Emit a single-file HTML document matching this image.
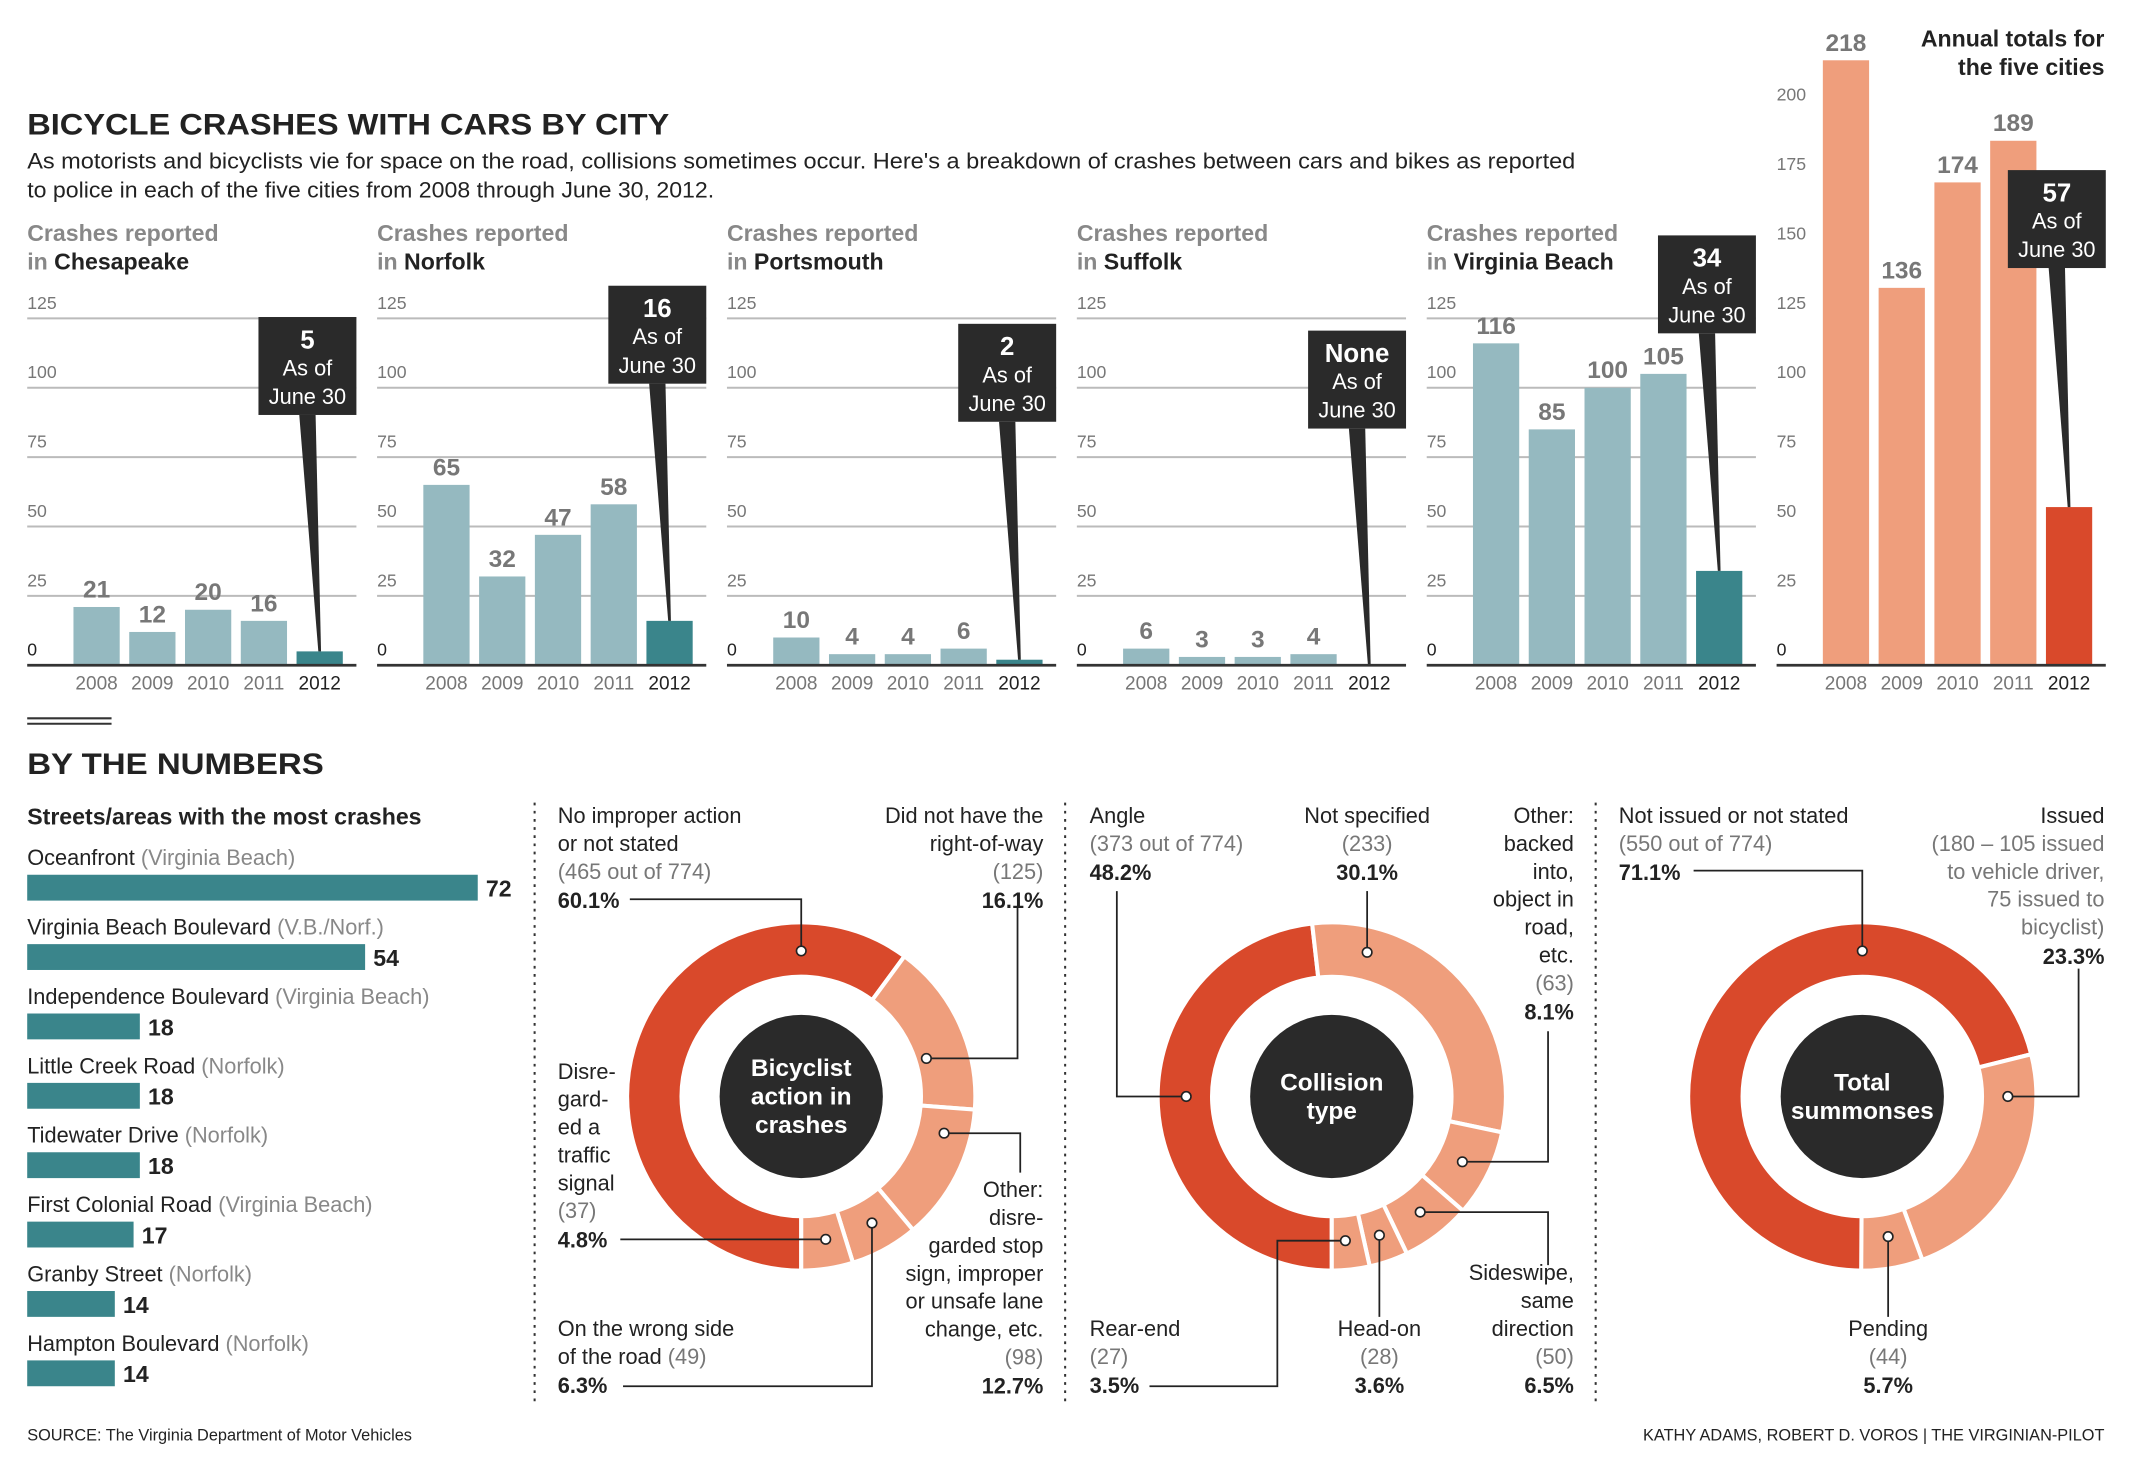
<!DOCTYPE html>
<html><head><meta charset="utf-8"><style>
html,body{margin:0;padding:0;background:#fff}
svg{display:block}
text{font-family:"Liberation Sans Narrow","Liberation Sans",sans-serif}
.g{fill:#777}.b{font-weight:bold}
</style></head><body>
<svg id="s" width="2133" height="1472" viewBox="0 0 1568 1082" xmlns="http://www.w3.org/2000/svg">
<rect width="1568" height="1082" fill="#fff"/>
<text x="20" y="99" font-size="22" class="b" fill="#222" textLength="472" lengthAdjust="spacingAndGlyphs">BICYCLE CRASHES WITH CARS BY CITY</text>
<text x="20" y="124" font-size="16" fill="#222" textLength="1138" lengthAdjust="spacingAndGlyphs">As motorists and bicyclists vie for space on the road, collisions sometimes occur. Here's a breakdown of crashes between cars and bikes as reported</text>
<text x="20" y="145" font-size="16" fill="#222" textLength="505" lengthAdjust="spacingAndGlyphs">to police in each of the five cities from 2008 through June 30, 2012.</text>
<text x="1547" y="34" font-size="17" class="b" fill="#222" text-anchor="end"><tspan>Annual totals for</tspan><tspan x="1547" dy="21">the five cities</tspan></text>
<g id="bars"></g>
<line x1="20" y1="528" x2="82" y2="528" stroke="#333" stroke-width="1.5"/>
<line x1="20" y1="532" x2="82" y2="532" stroke="#333" stroke-width="1.5"/>
<text x="20" y="569" font-size="22" class="b" fill="#222" textLength="218" lengthAdjust="spacingAndGlyphs">BY THE NUMBERS</text>
<text x="20" y="606" font-size="17" class="b" fill="#222">Streets/areas with the most crashes</text>
<g id="streets"></g>
<line x1="393" y1="590" x2="393" y2="1030" stroke="#333" stroke-width="1.5" stroke-dasharray="2,4"/>
<line x1="783" y1="590" x2="783" y2="1030" stroke="#333" stroke-width="1.5" stroke-dasharray="2,4"/>
<line x1="1173" y1="590" x2="1173" y2="1030" stroke="#333" stroke-width="1.5" stroke-dasharray="2,4"/>
<g id="donuts"></g>
<g id="leaders" fill="none" stroke="#222" stroke-width="1.3">
<polyline points="463,661 589,661 589,699"/>
<polyline points="748,667 748,778 681,778"/>
<polyline points="456,911 607,911"/>
<polyline points="694,833 750,833 750,862"/>
<polyline points="458,1019 641,1019 641,899"/>
<polyline points="821,655 821,806 872,806"/>
<polyline points="1005,655 1005,700"/>
<polyline points="1138,758 1138,854 1075,854"/>
<polyline points="845,1019 939,1019 939,912 989,912"/>
<polyline points="1014,968 1014,908"/>
<polyline points="1138,930 1138,891 1044,891"/>
<polyline points="1245,640 1369,640 1369,699"/>
<polyline points="1528,712 1528,806 1476,806"/>
<polyline points="1388,968 1388,909"/>
</g>
<g id="dots" fill="#fff" stroke="#222" stroke-width="1.2">
<circle cx="589" cy="699" r="3.5"/><circle cx="681" cy="778" r="3.5"/><circle cx="607" cy="911" r="3.5"/><circle cx="694" cy="833" r="3.5"/><circle cx="641" cy="899" r="3.5"/>
<circle cx="872" cy="806" r="3.5"/><circle cx="1005" cy="700" r="3.5"/><circle cx="1075" cy="854" r="3.5"/><circle cx="989" cy="912" r="3.5"/><circle cx="1014" cy="908" r="3.5"/><circle cx="1044" cy="891" r="3.5"/>
<circle cx="1369" cy="699" r="3.5"/><circle cx="1476" cy="806" r="3.5"/><circle cx="1388" cy="909" r="3.5"/>
</g>
<g font-size="16" fill="#222">
<text x="410" y="605"><tspan>No improper action</tspan><tspan x="410" dy="20.5">or not stated</tspan><tspan x="410" dy="20.5" class="g">(465 out of 774)</tspan><tspan x="410" dy="21.5" class="b">60.1%</tspan></text>
<text x="767" y="605" text-anchor="end"><tspan>Did not have the</tspan><tspan x="767" dy="20.5">right-of-way</tspan><tspan x="767" dy="20.5" class="g">(125)</tspan><tspan x="767" dy="21.5" class="b">16.1%</tspan></text>
<text x="410" y="793"><tspan>Disre-</tspan><tspan x="410" dy="20.5">gard-</tspan><tspan x="410" dy="20.5">ed a</tspan><tspan x="410" dy="20.5">traffic</tspan><tspan x="410" dy="20.5">signal</tspan><tspan x="410" dy="20.5" class="g">(37)</tspan><tspan x="410" dy="21.5" class="b">4.8%</tspan></text>
<text x="767" y="880" text-anchor="end"><tspan>Other:</tspan><tspan x="767" dy="20.5">disre-</tspan><tspan x="767" dy="20.5">garded stop</tspan><tspan x="767" dy="20.5">sign, improper</tspan><tspan x="767" dy="20.5">or unsafe lane</tspan><tspan x="767" dy="20.5">change, etc.</tspan><tspan x="767" dy="20.5" class="g">(98)</tspan><tspan x="767" dy="21.5" class="b">12.7%</tspan></text>
<text x="410" y="982"><tspan>On the wrong side</tspan><tspan x="410" dy="20.5">of the road <tspan class="g">(49)</tspan></tspan><tspan x="410" dy="21.5" class="b">6.3%</tspan></text>
<text x="801" y="605"><tspan>Angle</tspan><tspan x="801" dy="20.5" class="g">(373 out of 774)</tspan><tspan x="801" dy="21.5" class="b">48.2%</tspan></text>
<text x="1005" y="605" text-anchor="middle"><tspan>Not specified</tspan><tspan x="1005" dy="20.5" class="g">(233)</tspan><tspan x="1005" dy="21.5" class="b">30.1%</tspan></text>
<text x="1157" y="605" text-anchor="end"><tspan>Other:</tspan><tspan x="1157" dy="20.5">backed</tspan><tspan x="1157" dy="20.5">into,</tspan><tspan x="1157" dy="20.5">object in</tspan><tspan x="1157" dy="20.5">road,</tspan><tspan x="1157" dy="20.5">etc.</tspan><tspan x="1157" dy="20.5" class="g">(63)</tspan><tspan x="1157" dy="21.5" class="b">8.1%</tspan></text>
<text x="801" y="982"><tspan>Rear-end</tspan><tspan x="801" dy="20.5" class="g">(27)</tspan><tspan x="801" dy="21.5" class="b">3.5%</tspan></text>
<text x="1014" y="982" text-anchor="middle"><tspan>Head-on</tspan><tspan x="1014" dy="20.5" class="g">(28)</tspan><tspan x="1014" dy="21.5" class="b">3.6%</tspan></text>
<text x="1157" y="941" text-anchor="end"><tspan>Sideswipe,</tspan><tspan x="1157" dy="20.5">same</tspan><tspan x="1157" dy="20.5">direction</tspan><tspan x="1157" dy="20.5" class="g">(50)</tspan><tspan x="1157" dy="21.5" class="b">6.5%</tspan></text>
<text x="1190" y="605"><tspan>Not issued or not stated</tspan><tspan x="1190" dy="20.5" class="g">(550 out of 774)</tspan><tspan x="1190" dy="21.5" class="b">71.1%</tspan></text>
<text x="1547" y="605" text-anchor="end"><tspan>Issued</tspan><tspan x="1547" dy="20.5" class="g">(180 – 105 issued</tspan><tspan x="1547" dy="20.5" class="g">to vehicle driver,</tspan><tspan x="1547" dy="20.5" class="g">75 issued to</tspan><tspan x="1547" dy="20.5" class="g">bicyclist)</tspan><tspan x="1547" dy="21.5" class="b">23.3%</tspan></text>
<text x="1388" y="982" text-anchor="middle"><tspan>Pending</tspan><tspan x="1388" dy="20.5" class="g">(44)</tspan><tspan x="1388" dy="21.5" class="b">5.7%</tspan></text>
</g>
<text x="20" y="1059" font-size="12" fill="#222">SOURCE: The Virginia Department of Motor Vehicles</text>
<text x="1547" y="1059" font-size="12" fill="#222" text-anchor="end">KATHY ADAMS, ROBERT D. VOROS | THE VIRGINIAN-PILOT</text>
</svg>
<script>
const years=["2008","2009","2010","2011","2012"];
const cityNames=["Chesapeake","Norfolk","Portsmouth","Suffolk","Virginia Beach"];
const chesapeake=[21,12,20,16,5];
const norfolk=[65,32,47,58,16];
const portsmouth=[10,4,4,6,2];
const suffolk=[6,3,3,4,0];
const virginiaBeach=[116,85,100,105,34];
const totals=[218,136,174,189,57];
const callout2012=["5","16","2","None","34","57"];
const cityTicks=[0,25,50,75,100,125];
const totalTicks=[0,25,50,75,100,125,150,175,200];
const streetNames=["Oceanfront","Virginia Beach Boulevard","Independence Boulevard","Little Creek Road","Tidewater Drive","First Colonial Road","Granby Street","Hampton Boulevard"];
const streetAreas=["(Virginia Beach)","(V.B./Norf.)","(Virginia Beach)","(Norfolk)","(Norfolk)","(Virginia Beach)","(Norfolk)","(Norfolk)"];
const streetCrashes=[72,54,18,18,18,17,14,14];
const actionShares=[60.1,16.1,12.7,6.3,4.8];
const collisionShares=[48.2,30.1,8.1,6.5,3.6,3.5];
const summonsShares=[71.1,23.3,5.7];

const NS="http://www.w3.org/2000/svg";
function mk(tag,attrs,parent,txt){const e=document.createElementNS(NS,tag);for(const k in attrs)e.setAttribute(k,attrs[k]);if(txt!==undefined)e.textContent=txt;parent.appendChild(e);return e;}
const yScale=v=>489-v*2.04;
const calloutTop=[233,210,238,243,173,125];
const series=[chesapeake,norfolk,portsmouth,suffolk,virginiaBeach,totals];
const barsG=document.getElementById('bars');
series.forEach((vals,p)=>{
  const x0=20+p*257.2;
  const isTot=p===5;
  const g=mk('g',{},barsG);
  
  
  if(!isTot){
    const h=mk('text',{x:x0,y:177,'font-size':17,'font-weight':'bold',fill:'#888'},g,'Crashes reported');
    
    
    const h2=mk('text',{x:x0,y:198,'font-size':17,'font-weight':'bold',fill:'#888'},g,'in ');
    mk('tspan',{fill:'#222'},h2,cityNames[p]);
  }
  const ticks=isTot?totalTicks:cityTicks;
  ticks.forEach(t=>{
    if(!isTot && t>0){const l=mk('line',{x1:x0,x2:x0+242,y1:yScale(t),y2:yScale(t),stroke:'#bbb','stroke-width':1.5},g);
      
      }
    const tl=mk('text',{x:x0,y:yScale(t)-7,'font-size':13,fill:t===0?'#222':'#777'},g,String(t));
    
    
  });
  vals.forEach((v,i)=>{
    const cx=x0+51+i*41;
    const last=i===4;
    const col=isTot?(last?'#d9492b':'#ef9e7c'):(last?'#3a858b':'#95b9c0');
    const r=mk('rect',{x:cx-17,y:yScale(v),width:34,height:v*2.04,fill:col},g);
    
    
    if(!last){const vl=mk('text',{x:cx,y:yScale(v)-7,'font-size':18,'font-weight':'bold',fill:'#777','text-anchor':'middle'},g,String(v));
      
      }
    const yl=mk('text',{x:cx,y:507,'font-size':14,fill:last?'#222':'#777','text-anchor':'middle'},g,years[i]);
    
    
    if(last){
      const bt=calloutTop[p], bx=cx-45, bc=cx-9;
      const tail=mk('polygon',{points:`${bc-6},${bt+72} ${bc+6},${bt+72} ${cx+1},${yScale(v)} ${cx-1},${yScale(v)}`,fill:'#2a2a2a'},g);
      
      
      const box=mk('rect',{x:bx,y:bt,width:72,height:72,fill:'#2a2a2a'},g);
      
      
      mk('text',{x:bc,y:bt+23,'font-size':19,'font-weight':'bold',fill:'#fff','text-anchor':'middle'},g,callout2012[p]);
      mk('text',{x:bc,y:bt+43,'font-size':16,fill:'#fff','text-anchor':'middle'},g,'As of');
      mk('text',{x:bc,y:bt+64,'font-size':16,fill:'#fff','text-anchor':'middle'},g,'June 30');
    }
  });
  const base=mk('line',{x1:x0,x2:x0+242,y1:489,y2:489,stroke:'#333','stroke-width':2},g);
  
  
});

const sg=document.getElementById('streets');
streetCrashes.forEach((v,i)=>{
  const y=643+i*51;
  const t=mk('text',{x:20,y:y-7,'font-size':16,fill:'#222'},sg,streetNames[i]+' ');
  
  
  mk('tspan',{fill:'#888'},t,streetAreas[i]);
  const r=mk('rect',{x:20,y:y,width:v*4.6,height:19,fill:'#3a858b'},sg);
  
  
  const vl=mk('text',{x:20+v*4.6+6,y:y+16,'font-size':17,'font-weight':'bold',fill:'#222'},sg,String(v));
  
  
});

const dg=document.getElementById('donuts');
function pt(cx,cy,r,a){const rad=(a-90)*Math.PI/180;return [cx+r*Math.cos(rad),cy+r*Math.sin(rad)];}
function donut(cx,cy,shares,colors,name,lines){
  const g=mk('g',{},dg);
  
  
  const R=128,r=88;let a=180;
  shares.forEach((s,i)=>{
    const a2=a+s*3.6;const large=(a2-a)>180?1:0;
    const [x1,y1]=pt(cx,cy,R,a),[x2,y2]=pt(cx,cy,R,a2),[x3,y3]=pt(cx,cy,r,a2),[x4,y4]=pt(cx,cy,r,a);
    const p=mk('path',{d:`M${x1},${y1}A${R},${R} 0 ${large} 1 ${x2},${y2}L${x3},${y3}A${r},${r} 0 ${large} 0 ${x4},${y4}Z`,fill:colors[i],stroke:'#fff','stroke-width':3},g);
    
    
    a=a2;
  });
  const c=mk('circle',{cx:cx,cy:cy,r:60,fill:'#2a2a2a'},g);
  
  
  const y0=cy-(lines.length-1)*10.5+6;
  lines.forEach((l,i)=>mk('text',{x:cx,y:y0+i*21,'font-size':18,'font-weight':'bold',fill:'#fff','text-anchor':'middle'},g,l));
}
const red='#d9492b',lt='#ef9e7c';
donut(589,806,actionShares,[red,lt,lt,lt,lt],'donut-bicyclist-action',['Bicyclist','action in','crashes']);
donut(979,806,collisionShares,[red,lt,lt,lt,lt,lt],'donut-collision-type',['Collision','type']);
donut(1369,806,summonsShares,[red,lt,lt],'donut-summonses',['Total','summonses']);
const ld=document.getElementById('leaders');dg.parentNode.appendChild(ld);
const dt=document.getElementById('dots');dg.parentNode.appendChild(dt);
</script>
</body></html>
